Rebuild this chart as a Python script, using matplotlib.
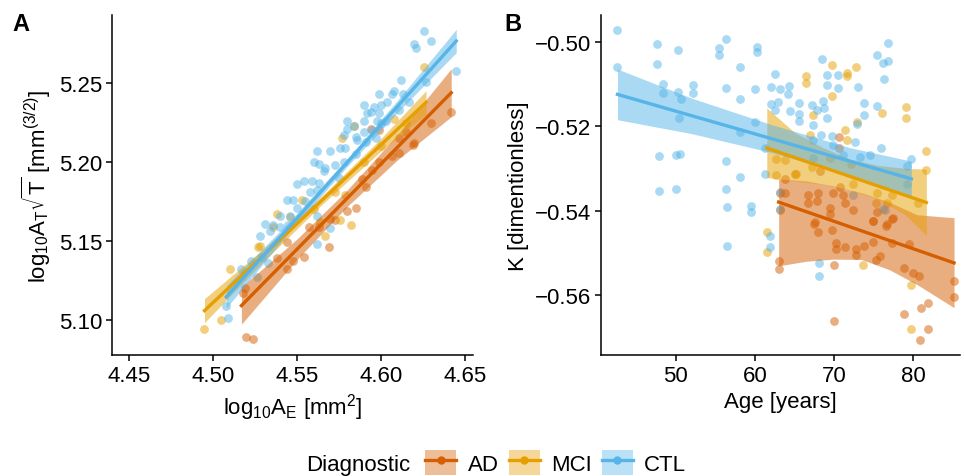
import numpy as np
import matplotlib
matplotlib.use("Agg")
import matplotlib.pyplot as plt
from matplotlib.lines import Line2D
from matplotlib.patches import Patch
from matplotlib.ticker import FormatStrFormatter, FuncFormatter

plt.rcParams['font.family'] = ['Liberation Sans', 'DejaVu Sans']
plt.rcParams['font.size'] = 16

COLORS = {'AD': '#D55E00', 'MCI': '#E69F00', 'CTL': '#56B4E9'}
groups = ['AD', 'MCI', 'CTL']

# ---- panel A: log10 AE vs log10 AT*sqrt(T) ----
ctl_a_x = [4.626, 4.620, 4.621, 4.630, 4.645, 4.612, 4.627, 4.599, 4.608, 4.607, 4.613, 4.590,
           4.596, 4.600, 4.604, 4.611, 4.617, 4.594, 4.592, 4.590, 4.599, 4.598, 4.603, 4.580,
           4.580, 4.584, 4.578, 4.585, 4.590, 4.591, 4.597, 4.576, 4.579, 4.562, 4.570, 4.586,
           4.560, 4.563, 4.567, 4.573, 4.578, 4.566, 4.550, 4.554, 4.559, 4.563, 4.558, 4.562,
           4.544, 4.548, 4.550, 4.546, 4.540, 4.531, 4.536, 4.540, 4.528, 4.534, 4.570, 4.562,
           4.509, 4.508, 4.517, 4.523, 4.526, 4.562, 4.533, 4.529, 4.575, 4.585, 4.555, 4.545,
           4.600, 4.595]
ctl_a_y = [5.283, 5.275, 5.272, 5.277, 5.258, 5.252, 5.251, 5.243, 5.245, 5.243, 5.243, 5.236,
           5.235, 5.236, 5.238, 5.233, 5.238, 5.232, 5.231, 5.226, 5.231, 5.226, 5.226, 5.226,
           5.221, 5.223, 5.217, 5.216, 5.219, 5.213, 5.215, 5.209, 5.209, 5.207, 5.207, 5.214,
           5.200, 5.199, 5.196, 5.198, 5.200, 5.194, 5.186, 5.188, 5.188, 5.187, 5.181, 5.182,
           5.176, 5.176, 5.171, 5.166, 5.166, 5.161, 5.160, 5.159, 5.153, 5.156, 5.158, 5.166,
           5.101, 5.109, 5.132, 5.137, 5.127, 5.148, 5.136, 5.140, 5.190, 5.205, 5.175, 5.160,
           5.225, 5.220]
mci_a_x = [4.626, 4.584, 4.577, 4.608, 4.553, 4.538, 4.573, 4.582, 4.576, 4.567, 4.536, 4.528,
           4.546, 4.564, 4.579, 4.495, 4.505, 4.510, 4.527, 4.590, 4.600, 4.615, 4.560]
mci_a_y = [5.260, 5.223, 5.215, 5.227, 5.176, 5.167, 5.181, 5.160, 5.163, 5.153, 5.159, 5.147,
           5.165, 5.162, 5.179, 5.094, 5.100, 5.132, 5.146, 5.200, 5.210, 5.225, 5.170]
ad_a_x = [4.642, 4.630, 4.620, 4.615, 4.594, 4.599, 4.611, 4.619, 4.611, 4.607, 4.599, 4.595,
          4.589, 4.591, 4.585, 4.580, 4.573, 4.570, 4.563, 4.557, 4.569, 4.520, 4.524, 4.518,
          4.519, 4.538, 4.544, 4.548, 4.554, 4.544]
ad_a_y = [5.232, 5.225, 5.212, 5.219, 5.221, 5.220, 5.215, 5.211, 5.206, 5.204, 5.200, 5.195,
          5.189, 5.184, 5.171, 5.169, 5.163, 5.164, 5.159, 5.159, 5.146, 5.089, 5.088, 5.117,
          5.120, 5.139, 5.132, 5.137, 5.140, 5.149]

# fitted lines and confidence bands
ctl_a_fx = [4.508, 4.545, 4.580, 4.610, 4.645]
ctl_a_fit = [5.1145, 5.1583, 5.1997, 5.2353, 5.2767]
ctl_a_se = [0.0070, 0.0035, 0.0025, 0.0038, 0.0074]
mci_a_fx = [4.495, 4.530, 4.565, 4.600, 4.627]
mci_a_fit = [5.1058, 5.1408, 5.1758, 5.2108, 5.2378]
mci_a_se = [0.0076, 0.0040, 0.0027, 0.0040, 0.0074]
ad_a_fx = [4.517, 4.550, 4.580, 4.610, 4.642]
ad_a_fit = [5.1090, 5.1446, 5.1770, 5.2094, 5.2439]
ad_a_se = [0.0118, 0.0065, 0.0052, 0.0080, 0.0152]

# ---- panel B: Age vs K ----
ctl_b_age = [42.6, 42.6, 47.6, 47.6, 50.2, 55.4, 55.4, 56.3, 60.3, 60.3, 58.1, 48.3, 48.3, 50.2,
             50.7, 52.2, 52.2, 56.3, 58.1, 60.0, 62.6, 62.0, 63.2, 64.3, 64.2, 62.0, 62.9, 62.6,
             64.4, 65.6, 65.6, 65.6, 67.2, 68.6, 67.8, 68.8, 69.1, 68.5, 69.1, 70.5, 69.1, 70.5,
             73.1, 73.8, 73.8, 75.4, 76.2, 76.9, 76.9, 76.3, 75.4, 67.4, 60.0, 72.9, 47.9, 50.0,
             50.5, 47.9, 50.0, 56.3, 56.3, 58.1, 56.5, 59.5, 59.5, 61.3, 61.3, 58.1, 76.0, 79.8,
             74.6, 73.3, 72.7, 63.2, 63.2, 72.4, 68.4, 69.7, 79.2, 79.2, 76.2, 67.4, 69.9, 71.2,
             67.4, 56.5, 61.9, 61.9, 68.1, 68.1, 76.5, 50.4]
ctl_b_k = [-0.4973, -0.5061, -0.5006, -0.5054, -0.5019, -0.5014, -0.5031, -0.4995, -0.5013,
           -0.5025, -0.5060, -0.5100, -0.5121, -0.5119, -0.5136, -0.5102, -0.5121, -0.5111,
           -0.5136, -0.5113, -0.5077, -0.5107, -0.5113, -0.5105, -0.5125, -0.5148, -0.5144,
           -0.5163, -0.5164, -0.5146, -0.5172, -0.5187, -0.5149, -0.5141, -0.5161, -0.5158,
           -0.5181, -0.5041, -0.5078, -0.5078, -0.5102, -0.5109, -0.5108, -0.5146, -0.5174,
           -0.5032, -0.5051, -0.5047, -0.5004, -0.5088, -0.5153, -0.5197, -0.5191, -0.5195,
           -0.5272, -0.5269, -0.5266, -0.5353, -0.5348, -0.5283, -0.5350, -0.5321, -0.5392,
           -0.5389, -0.5404, -0.5314, -0.5251, -0.5214, -0.5251, -0.5277, -0.5269, -0.5274,
           -0.5237, -0.5356, -0.5396, -0.5363, -0.5221, -0.5223, -0.5295, -0.5337, -0.5396,
           -0.5233, -0.5245, -0.5268, -0.5275, -0.5484, -0.5460, -0.5486, -0.5524, -0.5554,
           -0.5398, -0.5180]
mci_b_age = [66.5, 66.5, 69.8, 71.7, 71.7, 72.8, 69.8, 67.3, 76.1, 79.1, 79.1, 72.9, 71.4, 81.7,
             81.7, 71.6, 67.0, 62.7, 62.7, 63.8, 65.2, 67.2, 72.4, 75.4, 77.3, 76.7, 75.3, 69.5,
             72.2, 61.5, 61.5, 73.7, 79.8, 79.8, 80.7]
mci_b_k = [-0.5082, -0.5098, -0.5056, -0.5074, -0.5082, -0.5061, -0.5128, -0.5174, -0.5168,
           -0.5155, -0.5182, -0.5191, -0.5210, -0.5260, -0.5304, -0.5233, -0.5222, -0.5277,
           -0.5315, -0.5281, -0.5314, -0.5298, -0.5336, -0.5359, -0.5363, -0.5382, -0.5382,
           -0.5275, -0.5291, -0.5451, -0.5499, -0.5530, -0.5577, -0.5680, -0.5381]
ad_b_age = [70.7, 70.7, 66.7, 67.8, 66.7, 68.0, 69.9, 70.8, 71.2, 71.4, 69.5, 69.5, 72.4, 74.9,
            76.7, 77.5, 67.6, 65.1, 63.8, 63.8, 68.2, 63.0, 63.0, 70.0, 70.0, 78.9, 80.0, 80.8,
            78.9, 81.0, 81.9, 81.9, 80.9, 85.2, 85.2, 79.5, 77.3, 75.8, 75.0, 73.8, 72.8, 72.8,
            71.4, 70.2, 70.2, 69.8, 68.0, 67.5, 75.3, 76.6, 77.3, 75.0, 75.4, 63.2, 63.2]
ad_b_k = [-0.5226, -0.5252, -0.5363, -0.5378, -0.5381, -0.5359, -0.5359, -0.5344, -0.5363,
          -0.5382, -0.5394, -0.5409, -0.5399, -0.5424, -0.5432, -0.5417, -0.5428, -0.5314,
          -0.5325, -0.5359, -0.5306, -0.5520, -0.5539, -0.5528, -0.5661, -0.5537, -0.5548,
          -0.5556, -0.5646, -0.5631, -0.5619, -0.5680, -0.5706, -0.5566, -0.5604, -0.5480,
          -0.5478, -0.5508, -0.5474, -0.5483, -0.5491, -0.5505, -0.5486, -0.5478, -0.5491,
          -0.5447, -0.5451, -0.5432, -0.5516, -0.5436, -0.5421, -0.5424, -0.5404, -0.5359,
          -0.5398]

ctl_b_fx = [42.6, 52.0, 62.0, 72.0, 79.8]
ctl_b_lo = [-0.5185, -0.5218, -0.5262, -0.5315, -0.5367]
ctl_b_hi = [-0.5065, -0.5134, -0.5196, -0.5251, -0.5283]
ctl_b_line = ([42.6, 79.8], [-0.5125, -0.5325])
mci_b_fx = [61.5, 65.0, 68.5, 72.0, 75.5, 79.0, 81.7]
mci_b_lo = [-0.5322, -0.5330, -0.5338, -0.5352, -0.5372, -0.5410, -0.5459]
mci_b_hi = [-0.5157, -0.5215, -0.5250, -0.5278, -0.5293, -0.5300, -0.5302]
mci_b_line = ([61.5, 81.7], [-0.5252, -0.5381])
ad_b_fx = [63.0, 66.5, 70.0, 73.5, 77.0, 80.5, 85.2]
ad_b_lo = [-0.5531, -0.5520, -0.5515, -0.5516, -0.5540, -0.5575, -0.5630]
ad_b_hi = [-0.5325, -0.5330, -0.5342, -0.5358, -0.5380, -0.5410, -0.5417]
ad_b_line = ([63.0, 85.2], [-0.5380, -0.5524])

fig = plt.figure(figsize=(9.64, 4.77), dpi=100)
axA = fig.add_axes([0.1162, 0.2537, 0.3745, 0.7128])
axB = fig.add_axes([0.6234, 0.2537, 0.3724, 0.7128])

pts_a = {'AD': (ad_a_x, ad_a_y), 'MCI': (mci_a_x, mci_a_y), 'CTL': (ctl_a_x, ctl_a_y)}
fits_a = {'AD': (ad_a_fx, ad_a_fit, ad_a_se), 'MCI': (mci_a_fx, mci_a_fit, mci_a_se),
          'CTL': (ctl_a_fx, ctl_a_fit, ctl_a_se)}
pts_b = {'AD': (ad_b_age, ad_b_k), 'MCI': (mci_b_age, mci_b_k), 'CTL': (ctl_b_age, ctl_b_k)}
fits_b = {'AD': (ad_b_fx, ad_b_lo, ad_b_hi, ad_b_line), 'MCI': (mci_b_fx, mci_b_lo, mci_b_hi, mci_b_line),
          'CTL': (ctl_b_fx, ctl_b_lo, ctl_b_hi, ctl_b_line)}

# points first, then bands, then the fit lines on top
for g in groups:
    x, y = pts_a[g]
    axA.scatter(x, y, s=40, color=COLORS[g], alpha=0.5, lw=0, zorder=2)
    x, y = pts_b[g]
    axB.scatter(x, y, s=40, color=COLORS[g], alpha=0.5, lw=0, zorder=2)

for g in groups:
    fx, fit, se = fits_a[g]
    fx, fit, se = np.array(fx), np.array(fit), np.array(se)
    axA.fill_between(fx, fit - se, fit + se, color=COLORS[g], alpha=0.5, lw=0, zorder=3)
    fx, lo, hi, line = fits_b[g]
    axB.fill_between(fx, lo, hi, color=COLORS[g], alpha=0.5, lw=0, zorder=3)

for g in groups:
    fx, fit, se = fits_a[g]
    axA.plot(fx, fit, color=COLORS[g], lw=2.4, zorder=4)
    line = fits_b[g][3]
    axB.plot(line[0], line[1], color=COLORS[g], lw=2.4, zorder=4)

axA.set_xlim(4.4399, 4.655)
axA.set_ylim(5.0777, 5.2932)
axA.set_xticks([4.45, 4.50, 4.55, 4.60, 4.65])
axA.set_yticks([5.10, 5.15, 5.20, 5.25])
axA.xaxis.set_major_formatter(FormatStrFormatter('%.2f'))
axA.yaxis.set_major_formatter(FormatStrFormatter('%.2f'))
axA.set_xlabel(r'$\mathregular{log_{10}A_E}$ [mm$^{\mathregular{2}}$]')
axA.set_ylabel(r'$\mathregular{log_{10}A_T\sqrt{T}}$ [mm$^{\mathregular{(3/2)}}$]')

axB.set_xlim(40.51, 85.95)
axB.set_ylim(-0.5742, -0.4937)
axB.set_xticks([50, 60, 70, 80])
axB.set_yticks([-0.56, -0.54, -0.52, -0.50])
axB.yaxis.set_major_formatter(FuncFormatter(lambda v, p: f'{v:.2f}'.replace('-', '\u2212')))
axB.set_xlabel('Age [years]')
axB.set_ylabel('K [dimentionless]')

for ax in (axA, axB):
    for s in ('top', 'right'):
        ax.spines[s].set_visible(False)
    for s in ('left', 'bottom'):
        ax.spines[s].set_linewidth(1.1)
    ax.tick_params(length=4, width=1.1, labelsize=16, colors='black', pad=3)
    ax.xaxis.labelpad = 4

fig.text(0.013, 0.935, 'A', fontsize=17, fontweight='bold')
fig.text(0.523, 0.935, 'B', fontsize=17, fontweight='bold')

handles = [(Patch(facecolor=COLORS[g], alpha=0.4, lw=0),
            Line2D([], [], color=COLORS[g], lw=2.4, marker='o', ms=5)) for g in groups]
fig.text(0.318, 0.012, 'Diagnostic', fontsize=16)
fig.legend(handles, groups, loc='center left', bbox_to_anchor=(0.432, 0.028), ncol=3,
           frameon=False, handlelength=1.4, handleheight=1.3, columnspacing=0.45,
           handletextpad=0.5, fontsize=16, borderaxespad=0)

fig.savefig('out.png', dpi=100)
